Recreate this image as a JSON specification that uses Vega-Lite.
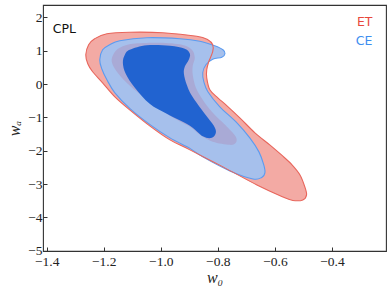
{
  "$schema": "https://vega.github.io/schema/vega-lite/v6.json",
  "width": 343,
  "height": 246,
  "autosize": "none",
  "padding": {"left": 43, "top": 5, "right": 6, "bottom": 44},
  "background": "white",
  "config": {
    "view": {"stroke": "#333333", "strokeWidth": 1.1},
    "axis": {
      "domain": false,
      "grid": false,
      "ticks": true,
      "tickSize": -4,
      "tickColor": "#333333",
      "tickWidth": 1,
      "labelOverlap": false,
      "labelFont": "Liberation Serif",
      "labelFontSize": 13.5,
      "labelColor": "#222222",
      "titleFont": "Liberation Serif",
      "titleFontStyle": "italic",
      "titleFontWeight": "normal",
      "titleFontSize": 16,
      "titleColor": "#222222"
    }
  },
  "datasets": {
    "et95": [
      {"w0": -1.263, "wa": 0.880}, {"w0": -1.253, "wa": 1.180}, {"w0": -1.232, "wa": 1.360}, {"w0": -1.189, "wa": 1.511},
      {"w0": -1.109, "wa": 1.556}, {"w0": -0.993, "wa": 1.541}, {"w0": -0.874, "wa": 1.435}, {"w0": -0.835, "wa": 1.330},
      {"w0": -0.818, "wa": 1.180}, {"w0": -0.818, "wa": 0.970}, {"w0": -0.832, "wa": 0.670}, {"w0": -0.839, "wa": 0.429},
      {"w0": -0.839, "wa": 0.189}, {"w0": -0.828, "wa": -0.171}, {"w0": -0.800, "wa": -0.411}, {"w0": -0.768, "wa": -0.652},
      {"w0": -0.723, "wa": -1.012}, {"w0": -0.670, "wa": -1.462}, {"w0": -0.618, "wa": -1.823}, {"w0": -0.575, "wa": -2.140},
      {"w0": -0.540, "wa": -2.420}, {"w0": -0.512, "wa": -2.724}, {"w0": -0.495, "wa": -3.084}, {"w0": -0.489, "wa": -3.324},
      {"w0": -0.502, "wa": -3.474}, {"w0": -0.537, "wa": -3.489}, {"w0": -0.572, "wa": -3.384}, {"w0": -0.663, "wa": -3.024},
      {"w0": -0.782, "wa": -2.483}, {"w0": -0.898, "wa": -1.973}, {"w0": -0.968, "wa": -1.673}, {"w0": -1.039, "wa": -1.252},
      {"w0": -1.109, "wa": -0.772}, {"w0": -1.161, "wa": -0.381}, {"w0": -1.204, "wa": 0.039}, {"w0": -1.239, "wa": 0.369},
      {"w0": -1.256, "wa": 0.610}
    ],
    "ce95": [
      {"w0": -1.214, "wa": 0.730}, {"w0": -1.204, "wa": 1.030}, {"w0": -1.179, "wa": 1.180}, {"w0": -1.144, "wa": 1.300},
      {"w0": -1.049, "wa": 1.390}, {"w0": -0.933, "wa": 1.360}, {"w0": -0.863, "wa": 1.285}, {"w0": -0.811, "wa": 1.150},
      {"w0": -0.782, "wa": 1.030}, {"w0": -0.775, "wa": 0.910}, {"w0": -0.786, "wa": 0.805}, {"w0": -0.818, "wa": 0.745},
      {"w0": -0.842, "wa": 0.580}, {"w0": -0.853, "wa": 0.339}, {"w0": -0.849, "wa": 0.069}, {"w0": -0.835, "wa": -0.231},
      {"w0": -0.793, "wa": -0.682}, {"w0": -0.733, "wa": -1.162}, {"w0": -0.688, "wa": -1.613}, {"w0": -0.656, "wa": -2.033},
      {"w0": -0.639, "wa": -2.423}, {"w0": -0.635, "wa": -2.664}, {"w0": -0.646, "wa": -2.799}, {"w0": -0.677, "wa": -2.844},
      {"w0": -0.758, "wa": -2.604}, {"w0": -0.853, "wa": -2.183}, {"w0": -0.898, "wa": -1.928}, {"w0": -0.968, "wa": -1.613},
      {"w0": -1.039, "wa": -1.207}, {"w0": -1.109, "wa": -0.727}, {"w0": -1.161, "wa": -0.261}, {"w0": -1.189, "wa": 0.129},
      {"w0": -1.207, "wa": 0.459}
    ],
    "et68": [
      {"w0": -1.172, "wa": 0.670}, {"w0": -1.165, "wa": 0.910}, {"w0": -1.144, "wa": 1.090}, {"w0": -1.098, "wa": 1.210},
      {"w0": -1.004, "wa": 1.240}, {"w0": -0.926, "wa": 1.180}, {"w0": -0.891, "wa": 1.030}, {"w0": -0.881, "wa": 0.790},
      {"w0": -0.888, "wa": 0.550}, {"w0": -0.888, "wa": 0.279}, {"w0": -0.877, "wa": -0.111}, {"w0": -0.853, "wa": -0.471},
      {"w0": -0.821, "wa": -0.832}, {"w0": -0.768, "wa": -1.282}, {"w0": -0.737, "wa": -1.583}, {"w0": -0.737, "wa": -1.763},
      {"w0": -0.758, "wa": -1.823}, {"w0": -0.818, "wa": -1.733}, {"w0": -0.863, "wa": -1.523}, {"w0": -0.898, "wa": -1.282},
      {"w0": -0.968, "wa": -0.952}, {"w0": -1.056, "wa": -0.411}, {"w0": -1.116, "wa": 0.009}, {"w0": -1.154, "wa": 0.369}
    ],
    "ce68": [
      {"w0": -1.133, "wa": 0.640}, {"w0": -1.126, "wa": 0.880}, {"w0": -1.109, "wa": 1.030}, {"w0": -1.049, "wa": 1.165},
      {"w0": -0.968, "wa": 1.150}, {"w0": -0.916, "wa": 1.060}, {"w0": -0.898, "wa": 0.910}, {"w0": -0.902, "wa": 0.730},
      {"w0": -0.916, "wa": 0.520}, {"w0": -0.919, "wa": 0.309}, {"w0": -0.909, "wa": -0.021}, {"w0": -0.891, "wa": -0.351},
      {"w0": -0.846, "wa": -0.892}, {"w0": -0.814, "wa": -1.252}, {"w0": -0.807, "wa": -1.462}, {"w0": -0.821, "wa": -1.613},
      {"w0": -0.853, "wa": -1.568}, {"w0": -0.898, "wa": -1.252}, {"w0": -0.979, "wa": -0.892}, {"w0": -1.039, "wa": -0.592},
      {"w0": -1.091, "wa": -0.111}, {"w0": -1.123, "wa": 0.309}
    ],
    "labels": [
      {"label": "CPL", "group": "model"},
      {"label": "ET", "group": "ET"},
      {"label": "CE", "group": "CE"}
    ]
  },
  "layer": [
    {"data": {"name": "et95"}, "mark": {"type": "line", "interpolate": "cardinal-closed", "fill": "#f3aaa4", "strokeOpacity": 0, "clip": true},
     "encoding": {
       "x": {"field": "w0", "type": "quantitative", "scale": {"domain": [-1.413, -0.2105], "nice": false, "zero": false},
         "axis": {"title": "w₀", "values": [-1.4, -1.2, -1.0, -0.8, -0.6, -0.4], "format": ".1f", "labelPadding": 7, "titlePadding": 2, "labelFlush": false}},
       "y": {"field": "wa", "type": "quantitative", "scale": {"domain": [-5.006, 2.372], "nice": false, "zero": false},
         "axis": {"title": "wₐ", "values": [2, 1, 0, -1, -2, -3, -4, -5], "format": "d", "labelPadding": 5, "titlePadding": 5}},
       "order": {"value": null}}},
    {"data": {"name": "ce95"}, "mark": {"type": "line", "interpolate": "cardinal-closed", "fill": "#a6c0ec", "stroke": "#5b9bf0", "strokeWidth": 1.1, "clip": true},
     "encoding": {
       "x": {"field": "w0", "type": "quantitative", "scale": {"domain": [-1.413, -0.2105], "nice": false, "zero": false},
         "axis": {"title": "w₀", "values": [-1.4, -1.2, -1.0, -0.8, -0.6, -0.4], "format": ".1f", "labelPadding": 7, "titlePadding": 2, "labelFlush": false}},
       "y": {"field": "wa", "type": "quantitative", "scale": {"domain": [-5.006, 2.372], "nice": false, "zero": false},
         "axis": {"title": "wₐ", "values": [2, 1, 0, -1, -2, -3, -4, -5], "format": "d", "labelPadding": 5, "titlePadding": 5}},
       "order": {"value": null}}},
    {"data": {"name": "et95"}, "mark": {"type": "line", "interpolate": "cardinal-closed", "stroke": "#e8665c", "strokeWidth": 1.1, "clip": true},
     "encoding": {
       "x": {"field": "w0", "type": "quantitative", "scale": {"domain": [-1.413, -0.2105], "nice": false, "zero": false},
         "axis": {"title": "w₀", "values": [-1.4, -1.2, -1.0, -0.8, -0.6, -0.4], "format": ".1f", "labelPadding": 7, "titlePadding": 2, "labelFlush": false}},
       "y": {"field": "wa", "type": "quantitative", "scale": {"domain": [-5.006, 2.372], "nice": false, "zero": false},
         "axis": {"title": "wₐ", "values": [2, 1, 0, -1, -2, -3, -4, -5], "format": "d", "labelPadding": 5, "titlePadding": 5}},
       "order": {"value": null}}},
    {"data": {"name": "et68"}, "mark": {"type": "line", "interpolate": "cardinal-closed", "fill": "#a9aad6", "strokeOpacity": 0, "clip": true},
     "encoding": {
       "x": {"field": "w0", "type": "quantitative", "scale": {"domain": [-1.413, -0.2105], "nice": false, "zero": false},
         "axis": {"title": "w₀", "values": [-1.4, -1.2, -1.0, -0.8, -0.6, -0.4], "format": ".1f", "labelPadding": 7, "titlePadding": 2, "labelFlush": false}},
       "y": {"field": "wa", "type": "quantitative", "scale": {"domain": [-5.006, 2.372], "nice": false, "zero": false},
         "axis": {"title": "wₐ", "values": [2, 1, 0, -1, -2, -3, -4, -5], "format": "d", "labelPadding": 5, "titlePadding": 5}},
       "order": {"value": null}}},
    {"data": {"name": "ce68"}, "mark": {"type": "line", "interpolate": "cardinal-closed", "fill": "#2163d0", "strokeOpacity": 0, "clip": true},
     "encoding": {
       "x": {"field": "w0", "type": "quantitative", "scale": {"domain": [-1.413, -0.2105], "nice": false, "zero": false},
         "axis": {"title": "w₀", "values": [-1.4, -1.2, -1.0, -0.8, -0.6, -0.4], "format": ".1f", "labelPadding": 7, "titlePadding": 2, "labelFlush": false}},
       "y": {"field": "wa", "type": "quantitative", "scale": {"domain": [-5.006, 2.372], "nice": false, "zero": false},
         "axis": {"title": "wₐ", "values": [2, 1, 0, -1, -2, -3, -4, -5], "format": "d", "labelPadding": 5, "titlePadding": 5}},
       "order": {"value": null}}},
    {"data": {"name": "labels"},
     "transform": [{"filter": "datum.group === 'model'"}],
     "mark": {"type": "text", "font": "DejaVu Sans", "fontSize": 12.5, "align": "left", "baseline": "middle", "fill": "#111111"},
     "encoding": {
       "x": {"datum": -1.379, "type": "quantitative", "scale": {"domain": [-1.413, -0.2105], "nice": false, "zero": false},
         "axis": {"title": "w₀", "values": [-1.4, -1.2, -1.0, -0.8, -0.6, -0.4], "format": ".1f", "labelPadding": 7, "titlePadding": 2, "labelFlush": false}},
       "y": {"datum": 1.64, "type": "quantitative", "scale": {"domain": [-5.006, 2.372], "nice": false, "zero": false},
         "axis": {"title": "wₐ", "values": [2, 1, 0, -1, -2, -3, -4, -5], "format": "d", "labelPadding": 5, "titlePadding": 5}},
       "text": {"field": "label"}}},
    {"data": {"name": "labels"},
     "transform": [{"filter": "datum.group === 'ET'"}],
     "mark": {"type": "text", "font": "DejaVu Sans", "fontSize": 12.5, "align": "right", "baseline": "middle", "fill": "#e8473c"},
     "encoding": {
       "x": {"datum": -0.258, "type": "quantitative", "scale": {"domain": [-1.413, -0.2105], "nice": false, "zero": false},
         "axis": {"title": "w₀", "values": [-1.4, -1.2, -1.0, -0.8, -0.6, -0.4], "format": ".1f", "labelPadding": 7, "titlePadding": 2, "labelFlush": false}},
       "y": {"datum": 1.856, "type": "quantitative", "scale": {"domain": [-5.006, 2.372], "nice": false, "zero": false},
         "axis": {"title": "wₐ", "values": [2, 1, 0, -1, -2, -3, -4, -5], "format": "d", "labelPadding": 5, "titlePadding": 5}},
       "text": {"field": "label"}}},
    {"data": {"name": "labels"},
     "transform": [{"filter": "datum.group === 'CE'"}],
     "mark": {"type": "text", "font": "DejaVu Sans", "fontSize": 12.5, "align": "right", "baseline": "middle", "fill": "#3d8ef0"},
     "encoding": {
       "x": {"datum": -0.258, "type": "quantitative", "scale": {"domain": [-1.413, -0.2105], "nice": false, "zero": false},
         "axis": {"title": "w₀", "values": [-1.4, -1.2, -1.0, -0.8, -0.6, -0.4], "format": ".1f", "labelPadding": 7, "titlePadding": 2, "labelFlush": false}},
       "y": {"datum": 1.30, "type": "quantitative", "scale": {"domain": [-5.006, 2.372], "nice": false, "zero": false},
         "axis": {"title": "wₐ", "values": [2, 1, 0, -1, -2, -3, -4, -5], "format": "d", "labelPadding": 5, "titlePadding": 5}},
       "text": {"field": "label"}}}
  ]
}
